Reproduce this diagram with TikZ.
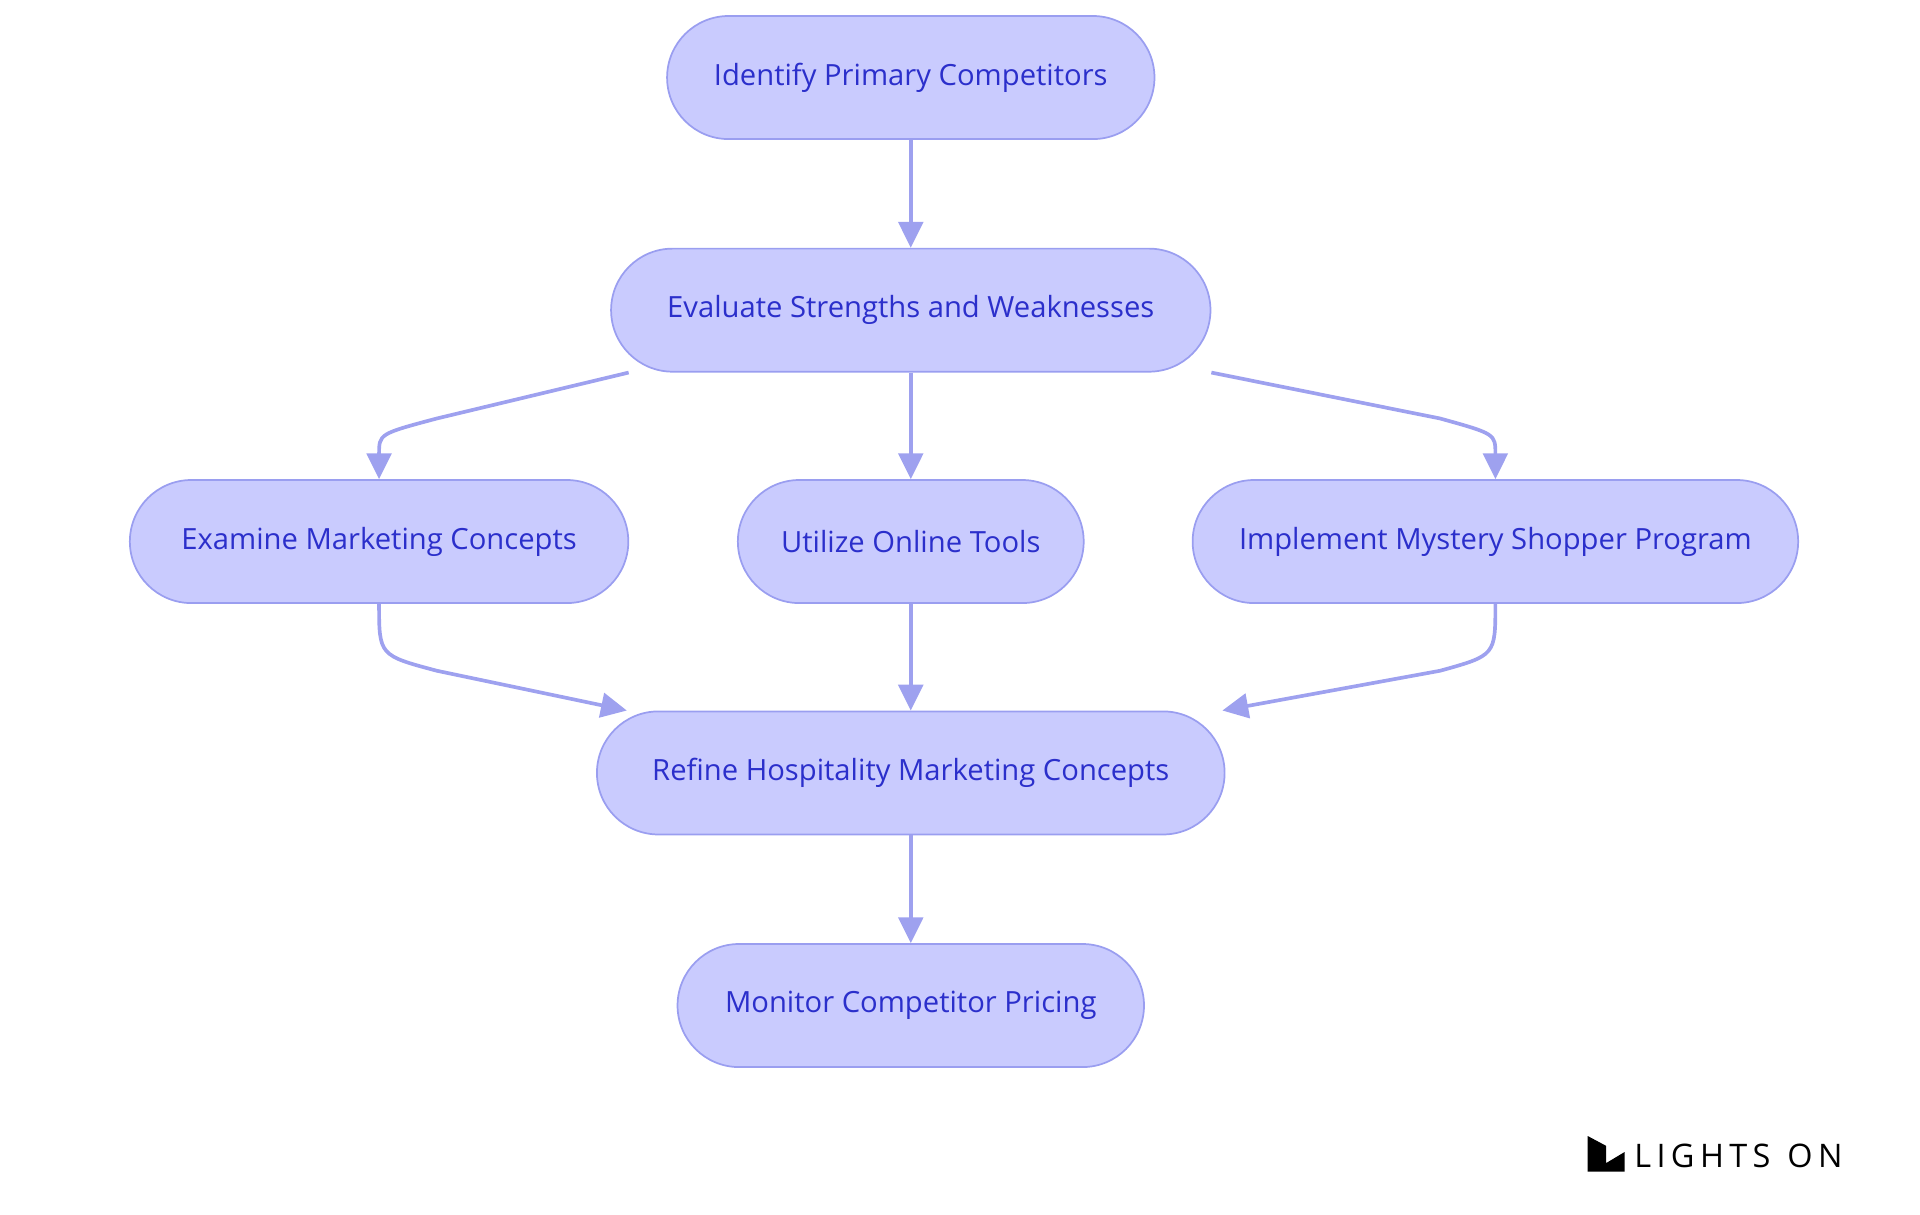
\documentclass[tikz,border=0pt]{standalone}
\usepackage{fontspec}
\setmainfont{Open Sans}
\usetikzlibrary{arrows.meta}
\definecolor{boxfill}{HTML}{C9CBFE}
\definecolor{boxline}{HTML}{9A9EF0}
\definecolor{boxtext}{HTML}{2B2FCB}
\definecolor{linkcol}{HTML}{9EA1EF}
\tikzset{
  stage/.style={draw=boxline, fill=boxfill, text=boxtext, rounded corners=1cm,
    minimum height=2cm, line width=0.8pt, font=\fontsize{13.5}{16}\selectfont},
  link/.style={draw=linkcol, line width=1.7pt, -{Triangle[length=0.42cm,width=0.4cm]}}
}
\begin{document}
\begin{tikzpicture}
  \useasboundingbox (0,0) rectangle (31.2,-19.74);
  % stages
  \node[stage, minimum width=7.92cm] (identify) at (14.8,-1.26) {Identify Primary Competitors};
  \node[stage, minimum width=9.74cm] (evaluate) at (14.8,-5.04) {Evaluate Strengths and Weaknesses};
  \node[stage, minimum width=8.1cm] (examine) at (6.16,-8.8) {Examine Marketing Concepts};
  \node[stage, minimum width=5.62cm] (online) at (14.8,-8.8) {Utilize Online Tools};
  \node[stage, minimum width=9.84cm] (mystery) at (24.3,-8.8) {Implement Mystery Shopper Program};
  \node[stage, minimum width=10.2cm] (refine) at (14.8,-12.56) {Refine Hospitality Marketing Concepts};
  \node[stage, minimum width=7.58cm] (monitor) at (14.8,-16.34) {Monitor Competitor Pricing};
  % links
  \draw[link] (identify) -- (evaluate);
  \draw[link] (evaluate) -- (online);
  \draw[link] ([xshift=0.3cm]evaluate.south west) -- (7.1,-6.8) .. controls (6.16,-7.05) .. (examine.north);
  \draw[link] (evaluate.south east) -- (23.4,-6.8) .. controls (24.3,-7.05) .. (mystery.north);
  \draw[link] (online) -- (refine);
  \draw[link] (examine.south) .. controls (6.16,-10.65) .. (7.1,-10.9) -- ([xshift=0.5cm]refine.north west);
  \draw[link] (mystery.south) .. controls (24.3,-10.65) .. (23.4,-10.9) -- ([xshift=-0.05cm]refine.north east);
  \draw[link] (refine) -- (monitor);
  % logo
  \fill[black] (25.8,-18.46) -- (26.1,-18.62) -- (26.1,-18.9) -- (26.4,-18.72) -- (26.4,-19.04) -- (25.8,-19.04) -- cycle;
  \node[anchor=west, inner sep=0pt, font=\fontsize{15}{17}\selectfont] (logo) at (26.55,-18.78) {L\,I\,G\,H\,T\,S\ \ O\,N};
\end{tikzpicture}
\end{document}
